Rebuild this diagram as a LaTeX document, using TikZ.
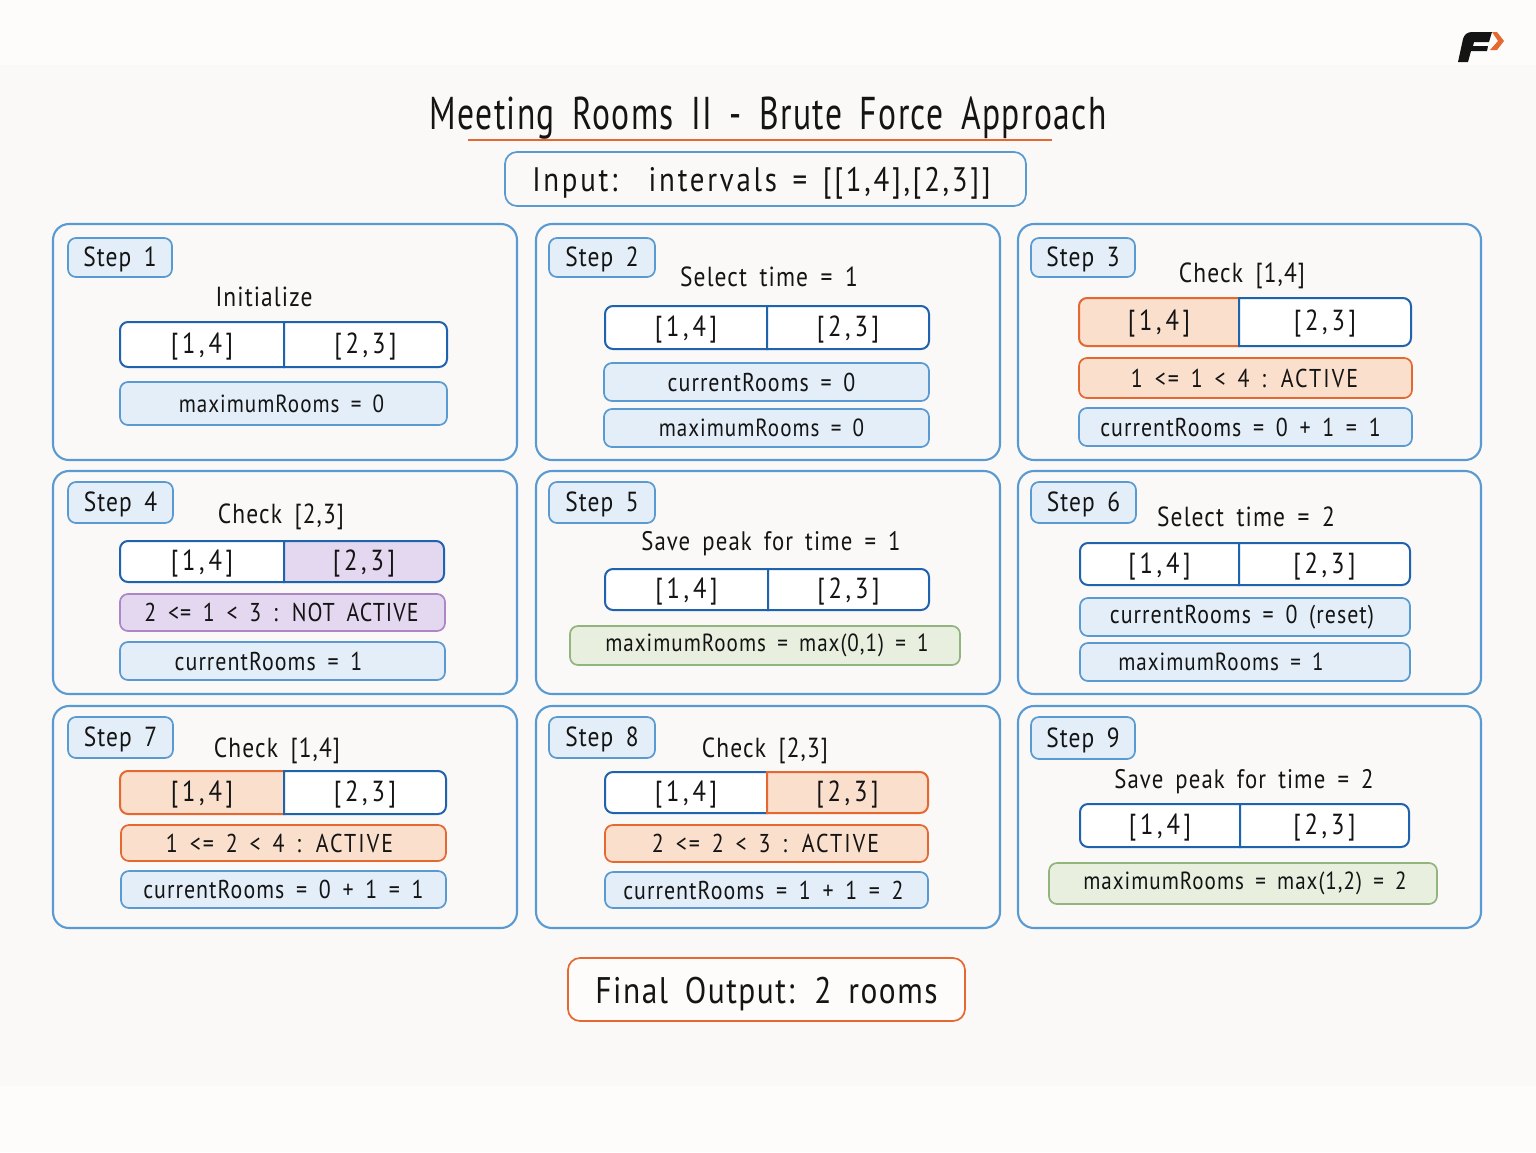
\documentclass[tikz,border=0pt]{standalone}
\usepackage{fontspec}
\setmainfont{PT Sans}[FakeStretch=0.85,LetterSpace=4,WordSpace=1.7]
\newfontfamily\titlefont{PT Sans}[FakeStretch=0.73,LetterSpace=3,WordSpace=1.7]
\newfontfamily\cellfont{PT Sans}[FakeStretch=0.85,LetterSpace=13,WordSpace=1.7]
\newfontfamily\inputfont{PT Sans}[FakeStretch=0.85,LetterSpace=8,WordSpace=1.5]
\definecolor{bgm}{HTML}{FAF9F7}
\definecolor{bgl}{HTML}{FDFCFB}
\definecolor{pan}{HTML}{5A9AD2}
\definecolor{darkb}{HTML}{1F62AE}
\definecolor{bfill}{HTML}{E3EEF8}
\definecolor{ofill}{HTML}{FBDFCD}
\definecolor{oline}{HTML}{E4682F}
\definecolor{pfill}{HTML}{E4D8F0}
\definecolor{pline}{HTML}{AC86C6}
\definecolor{gfill}{HTML}{E8EFDF}
\definecolor{gline}{HTML}{92B580}
\definecolor{ink}{HTML}{141414}
\tikzset{
  x=0.5pt,y=-0.5pt,
  every node/.style={text=ink,inner sep=0pt,align=center},
  boxbase/.style={rectangle,rounded corners=4pt,line width=0.85pt,font=\fontsize{12.9}{15}\selectfont},
  panel/.style={boxbase,draw=pan,fill=bgm,rounded corners=8pt,line width=1.05pt},
  tag/.style={boxbase,draw=pan,fill=bfill,font=\fontsize{13.8}{15}\selectfont},
  bluebox/.style={boxbase,draw=pan,fill=bfill},
  maxbox/.style={bluebox,font=\fontsize{12.4}{15}\selectfont},
  orangebox/.style={boxbase,draw=oline,fill=ofill,font=\inputfont\fontsize{12.9}{15}\selectfont},
  purplebox/.style={boxbase,draw=pline,fill=pfill},
  greenbox/.style={boxbase,draw=gline,fill=gfill,font=\fontsize{12.4}{15}\selectfont},
  heading/.style={font=\fontsize{13.8}{15}\selectfont},
  peakhead/.style={font=\fontsize{13.4}{15}\selectfont},
  celltext/.style={font=\cellfont\fontsize{14.5}{15}\selectfont,yshift=-1pt},
  plaincell/.style={draw=darkb,fill=white,line width=1pt},
  orangecell/.style={draw=oline,fill=ofill,line width=1pt},
  purplecell/.style={draw=darkb,fill=pfill,line width=1pt},
}
\newcommand{\bx}[7]{\node[#2,minimum width={(#5-#3)*0.5pt},minimum height={(#6-#4)*0.5pt}] (#1) at ({(#3+#5)/2},{(#4+#6)/2}) {#7};}
\newcommand{\tg}[1]{\raisebox{-4.5pt}[0pt][0pt]{Step #1}}
\newcommand{\shl}[2]{#2\kern#1pt}
\newcommand{\shr}[2]{\kern#1pt#2}
\newcommand{\arr}[8]{%
  \path[#7] (#4,#3) [rounded corners=4pt] -- (#2,#3) -- (#2,#6) [sharp corners] -- (#4,#6) -- cycle;
  \path[#8] (#4,#3) [rounded corners=4pt] -- (#5,#3) -- (#5,#6) [sharp corners] -- (#4,#6) -- cycle;
  \node[celltext] (#1l) at ({(#2+#4)/2},{(#3+#6)/2}) {[1,4]};
  \node[celltext] (#1r) at ({(#4+#5)/2},{(#3+#6)/2}) {[2,3]};
}
\begin{document}
\begin{tikzpicture}
\useasboundingbox (0,0) rectangle (1536,1152);
\fill[bgl] (0,0) rectangle (1536,1152);
\fill[bgm] (0,65) rectangle (1536,1086);
% logo
\fill[ink] (1458,62) -- (1463,39) .. controls (1464,35) and (1467,32) .. (1472,32) -- (1492,32) -- (1489,42) -- (1474,42) -- (1473,46) -- (1488,46) -- (1487,51) -- (1471,51) -- (1468,62) -- cycle;
\fill[oline] (1492,32) -- (1497,32) -- (1504,41) -- (1497,50) -- (1490,50) -- (1498,41) -- cycle;
% title
\node[font=\titlefont\fontsize{23}{26}\selectfont] (title) at (768,118) {Meeting Rooms II - Brute Force Approach};
\draw[oline,line width=1pt] (468,140) -- (1052,140);
\bx{input}{boxbase,draw=pan,fill=bgm,rounded corners=6pt,font=\inputfont\fontsize{17}{18}\selectfont}{505}{152}{1026}{206}{\raisebox{-6.3pt}[0pt][0pt]{\shl{4}{Input:\ \ intervals = [[1,4],[2,3]]}}}
% panels
\bx{p1}{panel}{53}{224}{517}{460}{}
\bx{p2}{panel}{536}{224}{1000}{460}{}
\bx{p3}{panel}{1018}{224}{1481}{460}{}
\bx{p4}{panel}{53}{471}{517}{694}{}
\bx{p5}{panel}{536}{471}{1000}{694}{}
\bx{p6}{panel}{1018}{471}{1481}{694}{}
\bx{p7}{panel}{53}{706}{517}{928}{}
\bx{p8}{panel}{536}{706}{1000}{928}{}
\bx{p9}{panel}{1018}{706}{1481}{928}{}
% step 1
\bx{t1}{tag}{68}{238}{172}{277}{\tg{1}}
\node[heading] (h1) at (264,297) {Initialize};
\arr{a1}{120}{322}{284}{447}{367}{plaincell}{plaincell}
\bx{b1a}{maxbox}{120}{382}{447}{425}{\shl{2}{maximumRooms = 0}}
% step 2
\bx{t2}{tag}{549}{238}{655}{277}{\tg{2}}
\node[heading] (h2) at (769,277) {Select time = 1};
\arr{a2}{605}{306}{767}{929}{349}{plaincell}{plaincell}
\bx{b2a}{bluebox}{604}{363}{929}{401}{\shl{5}{currentRooms = 0}}
\bx{b2b}{maxbox}{604}{409}{929}{447}{\shl{5}{maximumRooms = 0}}
% step 3
\bx{t3}{tag}{1031}{238}{1135}{277}{\tg{3}}
\node[heading] (h3) at (1242,276) {Check [1,4]};
\arr{a3}{1079}{298}{1239}{1411}{346}{orangecell}{plaincell}
\bx{b3a}{orangebox}{1079}{358}{1412}{398}{\shl{1}{1 <= 1 < 4 : ACTIVE}}
\bx{b3b}{bluebox}{1079}{408}{1412}{446}{\shl{5}{currentRooms = 0 + 1 = 1}}
% step 4
\bx{t4}{tag}{68}{482}{173}{523}{\tg{4}}
\node[heading] (h4) at (281,517) {Check [2,3]};
\arr{a4}{120}{541}{284}{444}{582}{plaincell}{purplecell}
\bx{b4a}{purplebox}{120}{594}{445}{631}{\shl{1}{2 <= 1 < 3 : NOT ACTIVE}}
\bx{b4b}{bluebox}{120}{642}{445}{680}{\shl{14}{currentRooms = 1}}
% step 5
\bx{t5}{tag}{549}{482}{655}{523}{\tg{5}}
\node[peakhead] (h5) at (771,544) {Save peak for time = 1};
\arr{a5}{605}{569}{768}{929}{610}{plaincell}{plaincell}
\bx{b5a}{greenbox}{570}{626}{960}{665}{\shr{2}{maximumRooms = max(0,1) = 1}}
% step 6
\bx{t6}{tag}{1031}{482}{1136}{523}{\tg{6}}
\node[heading] (h6) at (1246,517) {Select time = 2};
\arr{a6}{1080}{543}{1239}{1410}{585}{plaincell}{plaincell}
\bx{b6a}{bluebox}{1080}{598}{1410}{636}{\shl{3}{currentRooms = 0 (reset)}}
\bx{b6b}{maxbox}{1080}{643}{1410}{681}{\shl{24}{maximumRooms = 1}}
% step 7
\bx{t7}{tag}{68}{717}{173}{758}{\tg{7}}
\node[heading] (h7) at (277,751) {Check [1,4]};
\arr{a7}{120}{771}{284}{446}{814}{orangecell}{plaincell}
\bx{b7a}{orangebox}{121}{825}{446}{861}{\shl{4}{1 <= 2 < 4 : ACTIVE}}
\bx{b7b}{bluebox}{121}{871}{446}{908}{currentRooms = 0 + 1 = 1}
% step 8
\bx{t8}{tag}{549}{717}{655}{758}{\tg{8}}
\node[heading] (h8) at (765,751) {Check [2,3]};
\arr{a8}{605}{772}{767}{928}{813}{plaincell}{orangecell}
\bx{b8a}{orangebox}{605}{825}{928}{862}{\shl{1}{2 <= 2 < 3 : ACTIVE}}
\bx{b8b}{bluebox}{605}{872}{928}{908}{\shl{3}{currentRooms = 1 + 1 = 2}}
% step 9
\bx{t9}{tag}{1031}{717}{1135}{759}{\tg{9}}
\node[peakhead] (h9) at (1244,782) {Save peak for time = 2};
\arr{a9}{1080}{804}{1240}{1409}{847}{plaincell}{plaincell}
\bx{b9a}{greenbox}{1049}{863}{1437}{904}{\shr{2}{maximumRooms = max(1,2) = 2}}
% final
\bx{final}{boxbase,draw=oline,fill=bgl,rounded corners=6pt,font=\fontsize{18.5}{22}\selectfont}{568}{958}{965}{1021}{\raisebox{-7.2pt}[0pt][0pt]{Final Output: 2 rooms}}
\end{tikzpicture}
\end{document}
